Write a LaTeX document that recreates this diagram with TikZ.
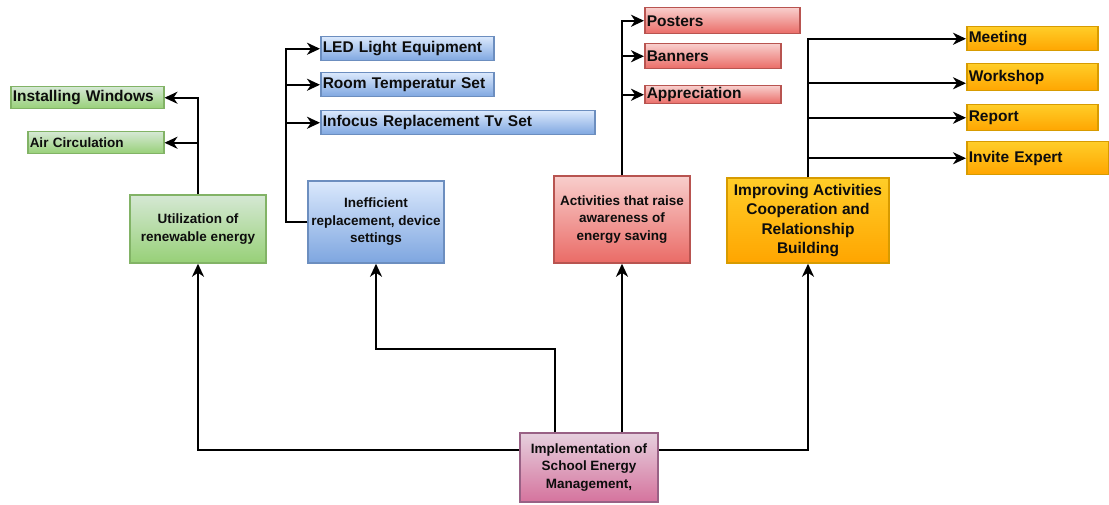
\documentclass[tikz,border=0pt]{standalone}
\usepackage{fontspec}
\setmainfont{Liberation Sans}
\usepackage{tikz}
\usetikzlibrary{arrows.meta,calc}
\definecolor{grnTop}{HTML}{D5E8D4}\definecolor{grnBot}{HTML}{97D077}\definecolor{grnLine}{HTML}{82B366}
\definecolor{bluTop}{HTML}{DAE8FC}\definecolor{bluBot}{HTML}{7EA6E0}\definecolor{bluLine}{HTML}{6C8EBF}
\definecolor{redTop}{HTML}{F8CECC}\definecolor{redBot}{HTML}{EA6B66}\definecolor{redLine}{HTML}{B85450}
\definecolor{orgTop}{HTML}{FFCD28}\definecolor{orgBot}{HTML}{FFA500}\definecolor{orgLine}{HTML}{D79B00}
\definecolor{pnkTop}{HTML}{E6D0DE}\definecolor{pnkBot}{HTML}{D5739D}\definecolor{pnkLine}{HTML}{996185}

\begin{document}
\begin{tikzpicture}[x=1pt,y=-1pt,>={Stealth[length=13pt,width=12pt,inset=4pt]},
  box/.style={draw,line width=1.5pt,text=black!95,inner sep=0pt},
  gbox/.style={box,top color=grnTop,bottom color=grnBot,draw=grnLine},
  bbox/.style={box,top color=bluTop,bottom color=bluBot,draw=bluLine},
  rbox/.style={box,top color=redTop,bottom color=redBot,draw=redLine},
  obox/.style={box,top color=orgTop,bottom color=orgBot,draw=orgLine},
  pbox/.style={box,top color=pnkTop,bottom color=pnkBot,draw=pnkLine},
  leaf/.style 2 args={anchor=north west,align=left,text width=#1,minimum height=#2,inner xsep=2pt,
    font=\bfseries\fontsize{15.5}{18}\selectfont},
  main/.style 2 args={align=center,minimum width=#1,minimum height=#2,
    font=\bfseries\fontsize{13.5}{17.5}\selectfont},
  link/.style={->,line width=2.4pt}]
\useasboundingbox (0,0) rectangle (1109,505);

% renewable energy
\node[gbox,main={136pt}{68pt}] (util) at (198,229) {Utilization of\\renewable energy};
\node[gbox,leaf={149pt}{22pt}] (win) at (10,86) {Installing Windows};
\node[gbox,leaf={132pt}{22pt},font=\bfseries\fontsize{13.5}{16}\selectfont] (air) at (27,131) {Air Circulation};

% devices
\node[bbox,main={136pt}{82pt}] (ineff) at (376,222) {Inefficient\\replacement, device\\settings};
\node[bbox,leaf={169pt}{24pt}] (led) at (320,36) {LED Light Equipment};
\node[bbox,leaf={169pt}{24pt}] (room) at (320,72) {Room Temperatur Set};
\node[bbox,leaf={270pt}{24pt}] (tvset) at (320,110) {Infocus Replacement Tv Set};
\coordinate (ineffbend) at (286,222);

% awareness
\node[rbox,main={136pt}{87pt}] (aware) at (622,219.5) {Activities that raise\\awareness of\\energy saving};
\node[rbox,leaf={151pt}{26pt}] (poster) at (644,7) {Posters};
\node[rbox,leaf={132pt}{25pt}] (banner) at (644,43) {Banners};
\node[rbox,leaf={132pt}{18pt}] (apprec) at (644,85) {Appreciation};

% cooperation
\node[obox,main={162pt}{85pt},font=\bfseries\fontsize{15.5}{19.5}\selectfont] (coop) at (808,220.5)
  {Improving Activities\\Cooperation and\\Relationship\\Building};
\node[obox,leaf={127pt}{24pt}] (meet) at (966,26) {Meeting};
\node[obox,leaf={127pt}{27pt}] (wshop) at (966,63) {Workshop};
\node[obox,leaf={127pt}{26pt}] (report) at (966,104) {Report};
\node[obox,leaf={138pt}{33pt}] (expert) at (966,141) {Invite Expert};

% root
\node[pbox,main={138pt}{69pt}] (impl) at (589,467.5) {Implementation of\\School Energy\\Management,};
\coordinate (midbend) at (376,349);

\draw[link] (util.north) |- (win.east);
\draw[link] (util.north) |- (air.east);
\foreach \leafname in {led,room,tvset}
  \draw[link] (ineff.west) -- (ineffbend) |- (\leafname.west);
\foreach \leafname in {poster,banner,apprec}
  \draw[link] (aware.north) |- (\leafname.west);
\foreach \leafname in {meet,report,expert}
  \draw[link] (coop.north) |- (\leafname.west);
\draw[link] (coop.north) |- ([yshift=-6pt]wshop.west);

\draw[link] ([yshift=-18pt]impl.north west) -| (util.south);
\draw[link] ([yshift=-18pt]impl.north east) -| (coop.south);
\draw[link] ([xshift=-34pt]impl.north) |- (midbend) -- (ineff.south);
\draw[link] (impl.north -| aware.south) -- (aware.south);
\end{tikzpicture}
\end{document}
